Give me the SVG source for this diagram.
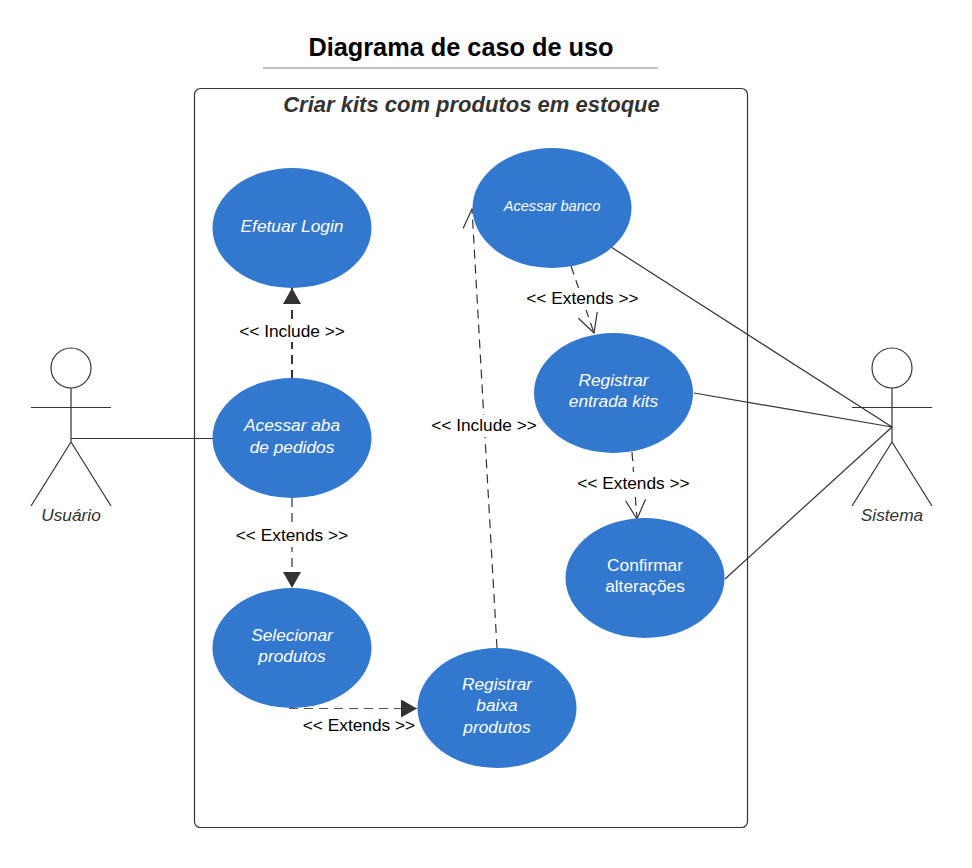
<svg xmlns="http://www.w3.org/2000/svg" width="972" height="868" viewBox="0 0 972 868">
<style>
text{font-family:"Liberation Sans",Arial,sans-serif;text-anchor:middle}
.uc{fill:#3278cf}
.ut{fill:#fff;font-style:italic;font-size:17.3px}
.lb{fill:#000;font-size:17.3px}
.ac{fill:#333;font-style:italic;font-size:17.3px}
.ln{fill:none;stroke:#333;stroke-width:1.2}
.d{fill:none;stroke:#333;stroke-width:1.2;stroke-dasharray:9 6}
.w{fill:#fff}
</style>
<defs>
<marker id="tri" markerUnits="userSpaceOnUse" markerWidth="18" markerHeight="18" refX="17" refY="9" orient="auto"><path d="M1 0L17 9L1 18Z" fill="#333"/></marker>
<marker id="open" markerUnits="userSpaceOnUse" markerWidth="24" markerHeight="24" refX="20" refY="12" orient="auto"><path d="M1 2L20 12L1 22" fill="none" stroke="#333" stroke-width="1.2"/></marker>
</defs>
<g id="title">
<text x="461" y="56" font-size="25.3" font-weight="700" fill="#000">Diagrama de caso de uso</text>
<path d="M263 68H658" stroke="#a9afb8" stroke-width="1.6"/>
</g>
<g id="system-boundary">
<rect x="194.500" y="88.500" width="553" height="739" rx="6" fill="#fff" stroke="#333" stroke-width="1.2"/>
<text x="471.500" y="111.500" font-size="22" font-weight="700" font-style="italic" fill="#333">Criar kits com produtos em estoque</text>
</g>
<g id="connectors">
<path class="ln" d="M71 438.500H213"/>
<path class="ln" d="M611 247L892 427"/>
<path class="ln" d="M694 393L892 427"/>
<path class="ln" d="M725 579L892 427"/>
<path d="M292 379V288" fill="none" stroke="#333" stroke-width="2" stroke-dasharray="9 6" marker-end="url(#tri)"/>
<path class="d" d="M292 498V588" marker-end="url(#tri)"/>
<path d="M289 708.500H417" fill="none" stroke="#555" stroke-width="1.2" stroke-dasharray="9 6" marker-end="url(#tri)"/>
<path class="d" d="M497 648L472 209" marker-end="url(#open)"/>
<path class="d" d="M571 266L594 333" marker-end="url(#open)"/>
<path class="d" d="M632 452L637 519" marker-end="url(#open)"/>
<rect class="w" x="236" y="320" width="112" height="22"/>
<rect class="w" x="233" y="525" width="118" height="22"/>
<rect class="w" x="524" y="288" width="118" height="22"/>
<rect class="w" x="575" y="472" width="118" height="22"/>
<rect class="w" x="429" y="415" width="111" height="22"/>
</g>
<g id="actor-usuario">
<circle class="ln" cx="71" cy="368" r="20"/>
<path class="ln" d="M71 388V442M31 407.500H111M71 442L31 506M71 442L111 506"/>
<text class="ac" x="71" y="521">Usuário</text>
</g>
<g id="actor-sistema">
<circle class="ln" cx="892" cy="368" r="20"/>
<path class="ln" d="M892 388V442M852 407.500H932M892 442L852 506M892 442L932 506"/>
<text class="ac" x="892" y="521">Sistema</text>
</g>
<g id="uc-login"><ellipse class="uc" cx="292" cy="228" rx="79.500" ry="60"/><text class="ut" x="292" y="232">Efetuar Login</text></g>
<g id="uc-pedidos"><ellipse class="uc" cx="292" cy="438" rx="79.500" ry="60"/><text class="ut" x="292" y="431">Acessar aba</text><text class="ut" x="292" y="453">de pedidos</text></g>
<g id="uc-selecionar"><ellipse class="uc" cx="292" cy="648" rx="79.500" ry="60"/><text class="ut" x="292" y="641">Selecionar</text><text class="ut" x="292" y="662">produtos</text></g>
<g id="uc-baixa"><ellipse class="uc" cx="497" cy="708" rx="79.500" ry="60"/><text class="ut" x="497" y="690">Registrar</text><text class="ut" x="497" y="711">baixa</text><text class="ut" x="497" y="733">produtos</text></g>
<g id="uc-banco"><ellipse class="uc" cx="552" cy="208" rx="79.500" ry="60"/><text class="ut" x="552" y="211" style="font-size:14.600px">Acessar banco</text></g>
<g id="uc-entrada"><ellipse class="uc" cx="613.500" cy="393" rx="79.500" ry="60"/><text class="ut" x="613.500" y="386">Registrar</text><text class="ut" x="613.500" y="407">entrada kits</text></g>
<g id="uc-confirmar"><ellipse class="uc" cx="645" cy="578" rx="79.500" ry="60"/><text class="ut" x="645" y="571" style="font-style:normal">Confirmar</text><text class="ut" x="645" y="592" style="font-style:normal">alterações</text></g>
<g id="labels">
<text class="lb" x="292" y="337">&lt;&lt; Include &gt;&gt;</text>
<text class="lb" x="292" y="541">&lt;&lt; Extends &gt;&gt;</text>
<text class="lb" x="359" y="731">&lt;&lt; Extends &gt;&gt;</text>
<text class="lb" x="484" y="431">&lt;&lt; Include &gt;&gt;</text>
<text class="lb" x="582.500" y="304">&lt;&lt; Extends &gt;&gt;</text>
<text class="lb" x="633.500" y="489">&lt;&lt; Extends &gt;&gt;</text>
</g>
</svg>
